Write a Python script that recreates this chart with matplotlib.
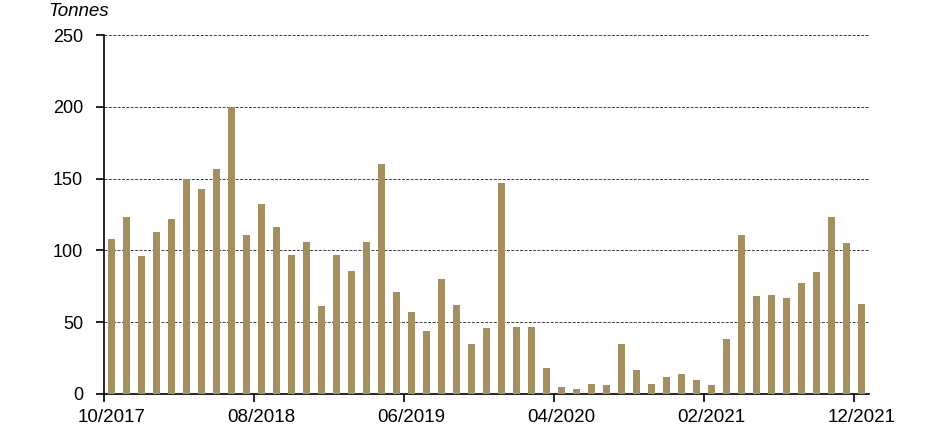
import numpy as np
import matplotlib
matplotlib.use('Agg')
from matplotlib import pyplot as plt

plt.rcParams['font.family'] = ['Liberation Sans', 'DejaVu Sans']

# monthly values, 10/2017 .. 12/2021
tonnes = [108, 123, 96, 113, 122, 150, 143, 157, 200, 111,
          132, 116, 97, 106, 61, 97, 86, 106, 160, 71,
          57, 44, 80, 62, 35, 46, 147, 47, 47, 18,
          5, 3.5, 7, 6, 35, 17, 7, 12, 14, 10,
          6, 38, 111, 68, 69, 67, 77, 85, 123, 105,
          63]
tick_labels = ['10/2017', '08/2018', '06/2019', '04/2020', '02/2021', '12/2021']
yticks = [0, 50, 100, 150, 200, 250]

bar_color = '#A38F60'

fig = plt.figure(figsize=(9.52, 4.32), dpi=100)
ax = fig.add_axes([104/952, 1-394/432, (869-104)/952, (394-35)/432])

x = np.arange(len(tonnes))
ax.bar(x, tonnes, width=0.48, color=bar_color, zorder=3)

# dashed gridlines
for y in yticks[1:]:
    ax.axhline(y, color='#404040', lw=0.7, ls=(0, (3, 1.5)), zorder=1)

ax.set_xlim(-0.5, len(tonnes) - 0.5)
ax.set_ylim(0, 250)
ax.set_yticks(yticks)
ax.set_yticklabels([str(v) for v in yticks])

# ticks on month boundaries, labels centred under the bars
xt = np.arange(0, len(tonnes), 10)
ax.set_xticks(xt - 0.5)
ax.set_xticklabels([])
ax.set_xticks(xt, minor=True)
ax.set_xticklabels(tick_labels, minor=True)
ax.tick_params(axis='x', which='minor', length=0, labelsize=13.5, pad=11)

for s in ['top', 'right']:
    ax.spines[s].set_visible(False)
ax.spines['left'].set_linewidth(1.2)
ax.spines['bottom'].set_linewidth(1.2)
ax.tick_params(axis='x', which='major', length=6, width=1.2, direction='out')
ax.tick_params(axis='y', labelsize=13, length=6, width=1.2, direction='out', pad=9)

fig.text(48/952, 1-12/432, 'Tonnes', fontsize=13.5, style='italic', va='center', ha='left')

fig.savefig('out.png', dpi=100)
